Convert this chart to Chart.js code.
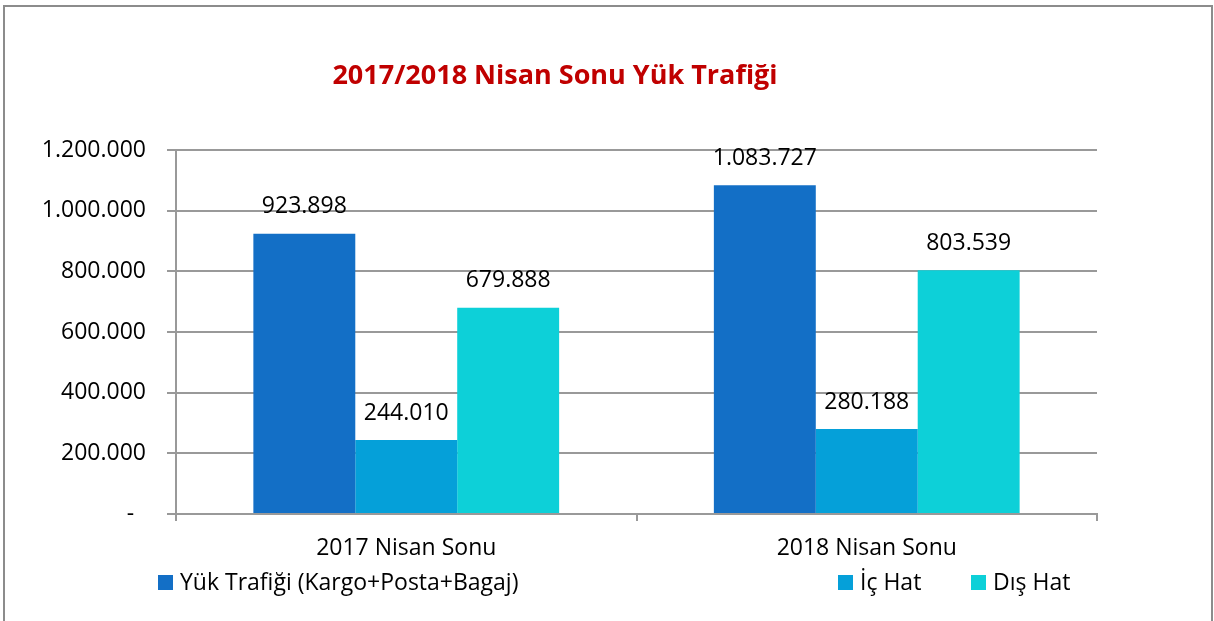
<!DOCTYPE html>
<html>
<head>
<meta charset="utf-8">
<script src="https://cdn.jsdelivr.net/npm/chart.js@4.4.0/dist/chart.umd.min.js"></script>
<style>
  html, body { margin: 0; padding: 0; background: #fff; overflow: hidden; }
  #frame { position: absolute; left: 3px; top: 5px; width: 1206px; height: 700px; border: 2px solid #8c8c8c; }
  #myChart { position: absolute; left: 0; top: 0; }
</style>
</head>
<body>
<div id="frame"></div>
<canvas id="myChart" width="1214" height="621"></canvas>
<script>
const categories = ['2017 Nisan Sonu', '2018 Nisan Sonu'];
const seriesNames = ['Yük Trafiği (Kargo+Posta+Bagaj)', 'İç Hat', 'Dış Hat'];
const yukTrafigi = [923898, 1083727];
const icHat = [244010, 280188];
const disHat = [679888, 803539];
const colors = ['#136fc6', '#05a0d9', '#0dd0d8'];
const titleText = '2017/2018 Nisan Sonu Yük Trafiği';

const FONT = '"Open Sans", sans-serif';

function fmt(v) {
    if (v === 0) return '-  ';
    return v.toString().replace(/\B(?=(\d{3})+(?!\d))/g, '.');
}

// value labels above every bar
const barLabels = {
    id: 'barLabels',
    afterDatasetsDraw(chart) {
        const ctx = chart.ctx;
        ctx.save();
        ctx.font = '23px ' + FONT;
        ctx.fillStyle = '#000';
        ctx.textAlign = 'center';
        ctx.textBaseline = 'middle';
        chart.data.datasets.forEach((ds, i) => {
            chart.getDatasetMeta(i).data.forEach((bar, j) => {
                ctx.fillText(fmt(ds.data[j]), bar.x, bar.y - 27);
            });
        });
        ctx.restore();
    }
};

// title and legend sit where the original put them
const extras = {
    id: 'extras',
    afterDraw(chart) {
        const ctx = chart.ctx;
        ctx.save();
        ctx.font = 'bold 27px ' + FONT;
        ctx.fillStyle = '#c00000';
        ctx.textAlign = 'center';
        ctx.textBaseline = 'middle';
        ctx.fillText(titleText, 555, 76);

        const legendX = [158, 838, 971];
        ctx.font = '23px ' + FONT;
        ctx.textAlign = 'left';
        chart.data.datasets.forEach((ds, i) => {
            ctx.fillStyle = ds.backgroundColor;
            ctx.fillRect(legendX[i], 575, 15, 15);
            ctx.fillStyle = '#000';
            ctx.fillText(ds.label, legendX[i] + 22, 583);
        });
        ctx.restore();
    }
};

const ctx = document.getElementById('myChart').getContext('2d');
const myChart = new Chart(ctx, {
    type: 'bar',
    data: {
        labels: categories,
        datasets: [
            { label: seriesNames[0], data: yukTrafigi, backgroundColor: colors[0] },
            { label: seriesNames[1], data: icHat, backgroundColor: colors[1] },
            { label: seriesNames[2], data: disHat, backgroundColor: colors[2] }
        ]
    },
    options: {
        responsive: false,
        animation: false,
        devicePixelRatio: 1,
        categoryPercentage: 0.664,
        barPercentage: 1,
        layout: { padding: { left: 0, right: 117, top: 150, bottom: 47 } },
        plugins: {
            legend: { display: false },
            title: { display: false },
            tooltip: { enabled: false }
        },
        scales: {
            x: {
                afterFit(s) { s.height = 60; },
                border: { color: '#999', width: 2 },
                grid: { drawOnChartArea: false, color: '#999', lineWidth: 2, tickLength: 7 },
                ticks: { color: '#000', font: { family: FONT, size: 23 }, padding: 14 }
            },
            y: {
                min: 0,
                max: 1200000,
                afterFit(s) { s.width = 176; },
                border: { color: '#999', width: 2 },
                grid: { color: '#999', lineWidth: 2, tickLength: 9 },
                ticks: {
                    stepSize: 200000,
                    color: '#000',
                    font: { family: FONT, size: 23 },
                    padding: 21,
                    callback: (v) => fmt(v)
                }
            }
        }
    },
    plugins: [barLabels, extras]
});
</script>
</body>
</html>
